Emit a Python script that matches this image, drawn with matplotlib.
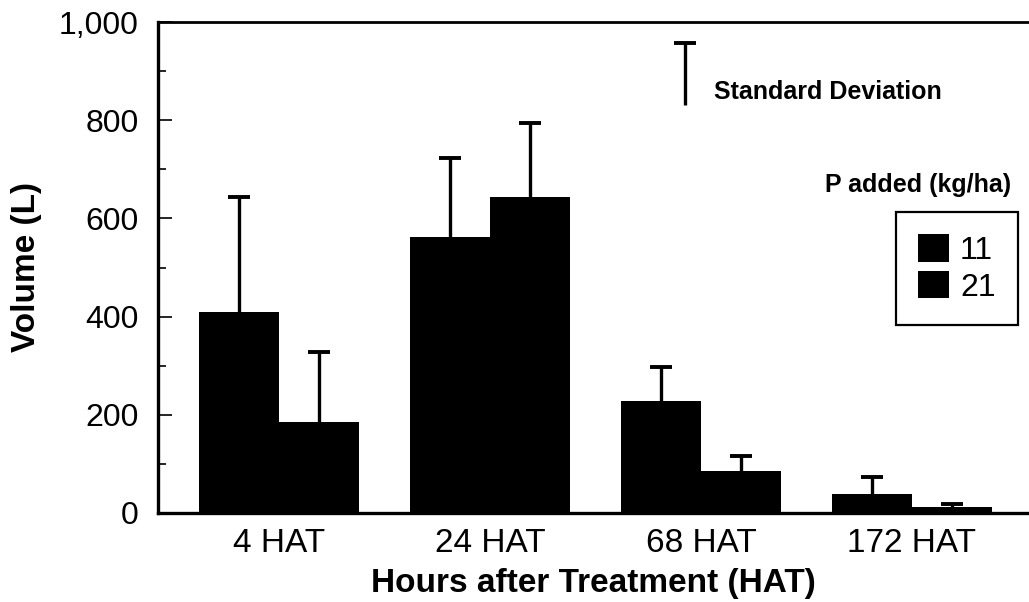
import matplotlib
matplotlib.use('Agg')
import matplotlib.pyplot as plt
import numpy as np
from matplotlib.ticker import MultipleLocator, FuncFormatter

plt.rcParams['font.family'] = ['Liberation Sans', 'DejaVu Sans']

# values
categories = ['4 HAT', '24 HAT', '68 HAT', '172 HAT']
p11 = [409, 562, 228, 39]
p11_sd = [235, 161, 69, 34]
p21 = [185, 644, 86, 12]
p21_sd = [143, 150, 30, 6]

fig = plt.figure(figsize=(10.29, 6.02), dpi=100)
ax = fig.add_axes([158/1029, 89/602, 871/1029, 491/602])

x = np.arange(len(categories))
w = 0.38
err_kw = dict(fmt='none', ecolor='black', elinewidth=2.4, capsize=8, capthick=2.8)


def upper_err(xs, ys, sd):
    # error bar drawn upward only, lower cap hidden
    eb = ax.errorbar(xs, ys, yerr=[np.zeros(len(sd)), sd], **err_kw)
    eb[1][0].set_visible(False)
    return eb


ax.bar(x - w/2, p11, w, color='black', label='11')
ax.bar(x + w/2, p21, w, color='black', label='21')
upper_err(x - w/2, p11, p11_sd)
upper_err(x + w/2, p21, p21_sd)

# standard deviation key
upper_err([1.924], [830], [128])
ax.text(2.06, 858, 'Standard Deviation', fontsize=18, fontweight='bold',
        va='center', ha='left')

ax.set_xlim(-0.573, 3.555)
ax.set_ylim(0, 1000)
ax.set_xticks(x)
ax.set_xticklabels(categories)
ax.yaxis.set_major_locator(MultipleLocator(200))
ax.yaxis.set_minor_locator(MultipleLocator(100))
ax.yaxis.set_major_formatter(FuncFormatter(lambda v, p: f'{int(v):,}'))

ax.spines['right'].set_visible(False)
for s in ['left', 'bottom']:
    ax.spines[s].set_linewidth(2.4)
ax.spines['top'].set_linewidth(2.0)

ax.tick_params(axis='y', which='major', direction='in', length=10, width=1.2,
               labelsize=23, pad=14)
ax.tick_params(axis='y', which='minor', direction='in', length=6, width=1.2)
ax.tick_params(axis='x', length=0, labelsize=24, pad=11)

ax.set_ylabel('Volume (L)', fontsize=24, fontweight='bold', labelpad=12)
ax.set_xlabel('Hours after Treatment (HAT)', fontsize=24, fontweight='bold',
              labelpad=8)
ax.xaxis.set_label_coords(0.5, -0.112)

leg = ax.legend(loc='upper right', bbox_to_anchor=(1018/1029, 1 - 212/602),
                bbox_transform=fig.transFigure, fontsize=23, frameon=True,
                fancybox=False, framealpha=1, edgecolor='black',
                handlelength=0.95, handleheight=0.95, handletextpad=0.35,
                labelspacing=0.15, borderpad=0.7, borderaxespad=0)
leg.get_frame().set_linewidth(1.6)

fig.text(1011/1029, 1 - 185/602, 'P added (kg/ha)', fontsize=18,
         fontweight='bold', ha='right', va='center')

fig.savefig('out.png', dpi=100)
